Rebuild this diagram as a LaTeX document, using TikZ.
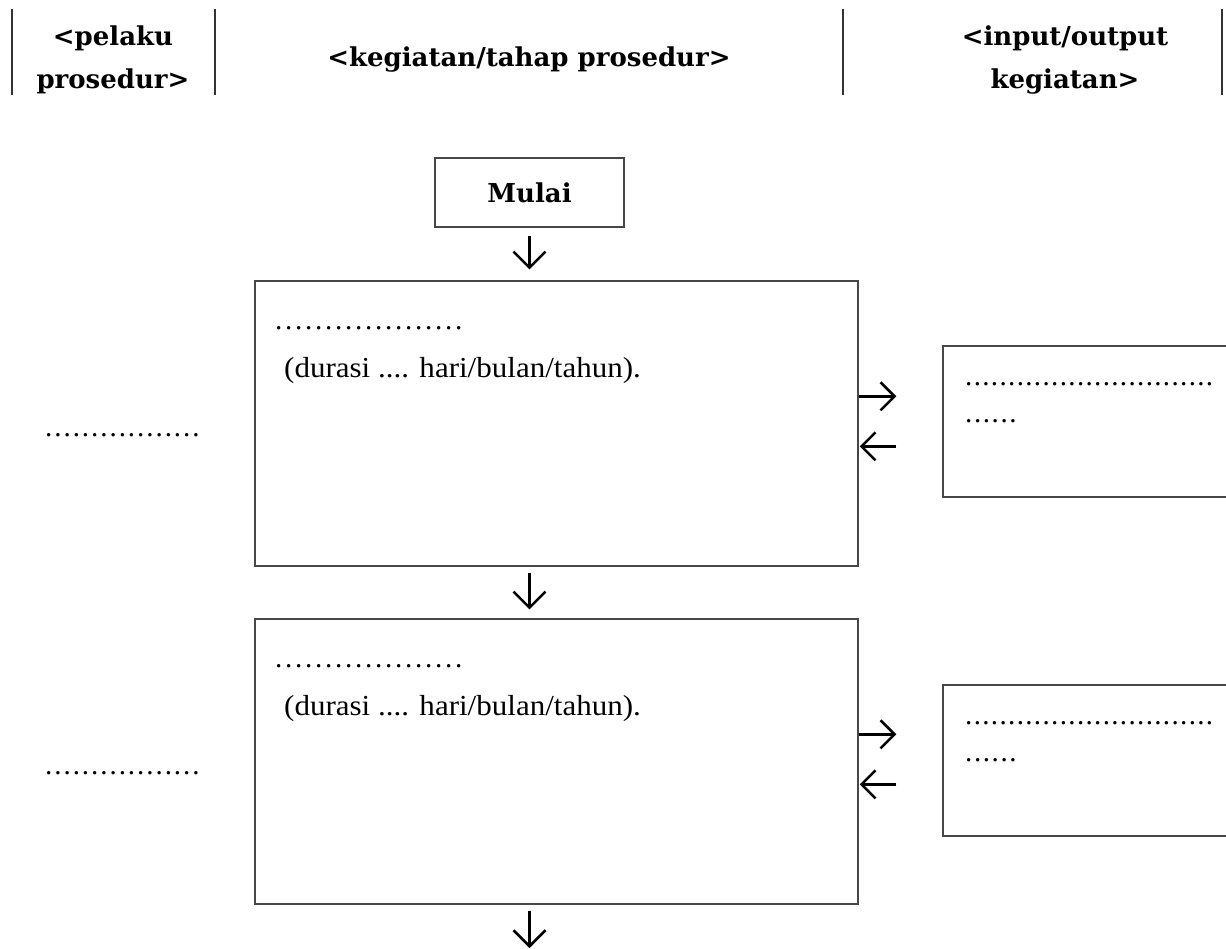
\documentclass[tikz,border=0pt]{standalone}
\usepackage{fontspec}
\setmainfont{Liberation Serif}
\newfontfamily\bodyfont[FakeStretch=1.07]{Liberation Serif}
\newfontfamily\hdfont{DejaVu Serif}
\usetikzlibrary{arrows.meta}
\newcommand\dotrow[2]{\foreach\i in {1,...,#1}{.\kern#2}}
\begin{document}
\begin{tikzpicture}[x=1pt,y=-1pt,
  hd/.style={font=\hdfont\bfseries\fontsize{26}{43}\selectfont, inner sep=0pt, align=center},
  bodytxt/.style={font=\bodyfont\fontsize{29}{34}\selectfont, inner sep=0pt, anchor=base west},
  dottxt/.style={font=\fontsize{29}{34}\selectfont, inner sep=0pt, anchor=base west},
  boxnode/.style={draw=black!72, line width=1.3pt, rectangle, inner sep=0pt},
  vline/.style={draw=black!80, line width=1.3pt},
  harr/.style={line width=2.5pt, -{Straight Barb[length=14pt,width=28pt]}},
  varr/.style={line width=2.5pt, -{Straight Barb[length=16pt,width=32pt]}}]
\useasboundingbox (0,0) rectangle (1226,948);
\clip (0,0) rectangle (1226,948);
% header
\draw[vline] (12,9) -- (12,95);
\draw[vline] (215,9) -- (215,95);
\draw[vline] (843,9) -- (843,95);
\draw[vline] (1222,9) -- (1222,95);
\node[hd] (hpel) at (113,60) {<pelaku\\prosedur>};
\node[hd, anchor=base] (hkeg) at (529,66) {<kegiatan/tahap prosedur>};
\node[hd] (hio) at (1065,60) {<input/output\\kegiatan>};
% start
\node[boxnode, minimum width=189pt, minimum height=69pt,
      font=\hdfont\bfseries\fontsize{26}{30}\selectfont] (mulai) at (529.5,192.5) {Mulai};
% main boxes
\node[boxnode, minimum width=603pt, minimum height=285pt] (box1) at (556.5,423.5) {};
\node[boxnode, minimum width=603pt, minimum height=285pt] (box2) at (556.5,761.5) {};
% input/output boxes
\node[boxnode, minimum width=297pt, minimum height=151pt] (in1) at (1091.5,421.5) {};
\node[boxnode, minimum width=297pt, minimum height=151pt] (in2) at (1091.5,760.5) {};
% texts box1
\node[dottxt] (t1a) at (275,329) {\dotrow{19}{2.75pt}};
\node[bodytxt] (t1b) at (284,377) {(durasi .... hari/bulan/tahun).};
\node[dottxt] (l1) at (45,436) {\dotrow{17}{1.95pt}};
\node[dottxt] (i1a) at (965,385) {\dotrow{29}{1.35pt}};
\node[dottxt] (i1b) at (965,422) {\dotrow{6}{1.6pt}};
% texts box2
\node[dottxt] (t2a) at (275,667) {\dotrow{19}{2.75pt}};
\node[bodytxt] (t2b) at (284,715) {(durasi .... hari/bulan/tahun).};
\node[dottxt] (l2) at (45,774) {\dotrow{17}{1.95pt}};
\node[dottxt] (i2a) at (965,724) {\dotrow{29}{1.35pt}};
\node[dottxt] (i2b) at (965,761) {\dotrow{6}{1.6pt}};
% vertical arrows
\coordinate (end) at (529.5,948);
\draw[varr, shorten <=8pt, shorten >=11pt] (mulai.south) -- (mulai.south |- box1.north);
\draw[varr, shorten <=6pt, shorten >=9pt] (box1.south -| mulai.south) -- (box2.north -| mulai.south);
\draw[varr, shorten <=6pt] (box2.south -| mulai.south) -- (end);
% horizontal arrows
\coordinate (r1) at ([yshift=-116pt]box1.north east);
\coordinate (k1) at ([yshift=-166pt]box1.north east);
\coordinate (r2) at ([yshift=-116pt]box2.north east);
\coordinate (k2) at ([yshift=-166pt]box2.north east);
\draw[harr, shorten >=46pt] (r1) -- (r1 -| in1.west);
\draw[harr, shorten <=46pt, shorten >=1pt] (k1 -| in1.west) -- (k1);
\draw[harr, shorten >=46pt] (r2) -- (r2 -| in2.west);
\draw[harr, shorten <=46pt, shorten >=1pt] (k2 -| in2.west) -- (k2);
\end{tikzpicture}
\end{document}
